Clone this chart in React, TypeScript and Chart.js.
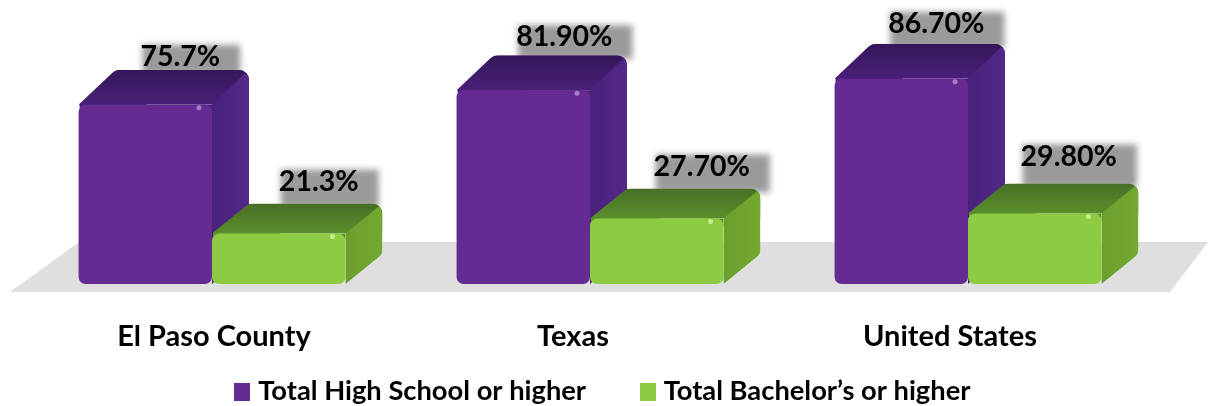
import React, { useEffect, useRef } from "react";
import { Chart, registerables } from "chart.js";

Chart.register(...registerables);

const categories = ["El Paso County", "Texas", "United States"];
const highSchool = [75.7, 81.9, 86.7];
const bachelors = [21.3, 27.7, 29.8];
const highSchoolLabels = ["75.7%", "81.90%", "86.70%"];
const bachelorsLabels = ["21.3%", "27.70%", "29.80%"];
const seriesNames = ["Total High School or higher", "Total Bachelor\u2019s or higher"];

const FONT = "Lato, 'Open Sans', sans-serif";
const tickNudge = [2, -17, -18];
const labelNudgeX = [[35, 41, 35], [40, 45, 34]];
const labelNudgeY = [[-48, -53, -55], [-52, -52, -57]];

const looks = [
  { front: "#662b92", topBack: "#351659", topFront: "#4a2079", sideA: "#48227a", sideB: "#54278a", spot: "#a27cc8", dy: 35, labels: highSchoolLabels },
  { front: "#8ccb42", topBack: "#476f26", topFront: "#5a8f2b", sideA: "#6a9f2d", sideB: "#73a930", spot: "#c8ea90", dy: 30, labels: bachelorsLabels },
];
const DX = 37;
const LABEL_FONT = `bold 28.5px ${FONT}`;

function silhouette(ctx: CanvasRenderingContext2D, l: number, r: number, t: number, b: number, dy: number) {
  const R = 10;
  ctx.beginPath();
  ctx.moveTo(l, t);
  ctx.arcTo(l + DX, t - dy, r + DX, t - dy, R);
  ctx.arcTo(r + DX, t - dy, r + DX, b - dy, R);
  ctx.arcTo(r + DX, b - dy, r, b, R);
  ctx.lineTo(r, b);
  ctx.lineTo(r, t);
  ctx.closePath();
}

const depthPlugin = {
  id: "depth",
  afterLayout(chart: any) {
    // let the tall tick labels run past the short axis box without being clipped
    chart.scales.x.bottom += 35;
    chart.legend.left += 15;
    chart.legend.right += 15;
    chart.legend.top -= 3;
  },
  afterUpdate(chart: any) {
    const items = chart.scales.x.getLabelItems();
    items.forEach((it: any, i: number) => {
      it.options.translation[0] += tickNudge[i];
    });
  },
  beforeDatasetsDraw(chart: any) {
    const { ctx, chartArea } = chart;
    ctx.save();
    ctx.fillStyle = "#e0dfdf";
    ctx.beginPath();
    ctx.moveTo(chartArea.left - 13, chartArea.bottom + 8);
    ctx.lineTo(chartArea.left + 56, chartArea.bottom - 42);
    ctx.lineTo(chart.width, chartArea.bottom - 42);
    ctx.lineTo(chart.width - 38, chartArea.bottom + 8);
    ctx.closePath();
    ctx.fill();
    ctx.restore();

    looks.forEach((look, ds) => {
      chart.getDatasetMeta(ds).data.forEach((bar: any, i: number) => {
        const l = bar.x - bar.width / 2;
        const r = bar.x + bar.width / 2;
        const t = bar.y;
        const b = bar.base;
        const tx = bar.x + labelNudgeX[ds][i];
        const cy = bar.y + labelNudgeY[ds][i];
        const backY = t - look.dy;

        // blurred grey shadow behind the value label
        ctx.save();
        ctx.font = LABEL_FONT;
        const w = ctx.measureText(look.labels[i]).width;
        ctx.filter = "blur(3px)";
        ctx.fillStyle = "#9a9a9a";
        ctx.fillRect(tx - w / 2 + 2, cy - 12, w + 18, backY - cy + 16);
        ctx.restore();

        // top and side faces
        ctx.save();
        silhouette(ctx, l, r, t, b, look.dy);
        ctx.clip();
        const topGrad = ctx.createLinearGradient(0, backY, 0, t);
        topGrad.addColorStop(0, look.topBack);
        topGrad.addColorStop(1, look.topFront);
        ctx.fillStyle = topGrad;
        ctx.fillRect(l, backY, r + DX - l, look.dy);
        const sideGrad = ctx.createLinearGradient(r, 0, r + DX, 0);
        sideGrad.addColorStop(0, look.sideA);
        sideGrad.addColorStop(1, look.sideB);
        ctx.fillStyle = sideGrad;
        ctx.beginPath();
        ctx.moveTo(r, t);
        ctx.lineTo(r + DX, backY);
        ctx.lineTo(r + DX, b);
        ctx.lineTo(r, b);
        ctx.closePath();
        ctx.fill();
        ctx.restore();

        // backing for the front face's rounded top corners
        ctx.save();
        ctx.fillStyle = look.topFront;
        ctx.fillRect(l + bar.width / 2, t, bar.width / 2, 8);
        ctx.fillRect(l + 1, t - 1, bar.width / 2, 4);
        ctx.restore();
      });
    });
  },
  afterDatasetsDraw(chart: any) {
    const { ctx } = chart;
    looks.forEach((look, ds) => {
      chart.getDatasetMeta(ds).data.forEach((bar: any, i: number) => {
        const r = bar.x + bar.width / 2;
        ctx.save();
        ctx.fillStyle = look.spot;
        ctx.beginPath();
        ctx.arc(r - 13, bar.y + 3, 2.5, 0, Math.PI * 2);
        ctx.fill();
        ctx.fillStyle = "#000";
        ctx.font = LABEL_FONT;
        ctx.textAlign = "center";
        ctx.textBaseline = "middle";
        ctx.fillText(look.labels[i], bar.x + labelNudgeX[ds][i], bar.y + labelNudgeY[ds][i]);
        ctx.restore();
      });
    });
  },
};

function swatch(color: string) {
  const c = document.createElement("canvas");
  c.width = 16;
  c.height = 18;
  const g = c.getContext("2d")!;
  g.fillStyle = color;
  g.fillRect(0, 0, 16, 18);
  return c;
}

export default function App() {
  const ref = useRef<HTMLCanvasElement>(null);
  useEffect(() => {
    const swatches = [swatch("#662b92"), swatch("#8ccb42")];
    const chart = new Chart(ref.current!, {
      type: "bar",
      data: {
        labels: categories,
        datasets: [
          { label: seriesNames[0], data: highSchool, backgroundColor: looks[0].front, borderRadius: 7, borderSkipped: false },
          { label: seriesNames[1], data: bachelors, backgroundColor: looks[1].front, borderRadius: 7, borderSkipped: false },
        ],
      },
      options: {
        responsive: false,
        animation: false,
        layout: { padding: { left: 23, right: 51, top: 0, bottom: 0 } },
        datasets: { bar: { barPercentage: 1, categoryPercentage: 0.706 } },
        scales: {
          x: {
            grid: { display: false, drawTicks: false },
            border: { display: false },
            afterFit: (s: any) => { s.height = 38; },
            ticks: { color: "#000", padding: 35, maxRotation: 0, font: { family: FONT, size: 29, weight: "bold" } },
          },
          y: { display: false, min: 0, max: 120 },
        },
        plugins: {
          tooltip: { enabled: false },
          legend: {
            position: "bottom",
            maxHeight: 84,
            labels: {
              usePointStyle: true,
              pointStyleWidth: 5,
              padding: 59,
              color: "#000",
              font: { family: FONT, size: 27.3, weight: "bold" },
              generateLabels: (c: any) =>
                Chart.defaults.plugins.legend.labels.generateLabels(c).map((it: any, i: number) => ({ ...it, pointStyle: swatches[i] })),
            },
          },
        },
      } as any,
      plugins: [depthPlugin],
    });
    return () => chart.destroy();
  }, []);
  return (
    <div style={{ position: "absolute", left: 0, top: 0, width: 1208, height: 406, background: "#fff" }}>
      <canvas ref={ref} width={1208} height={406} style={{ display: "block" }} />
    </div>
  );
}
